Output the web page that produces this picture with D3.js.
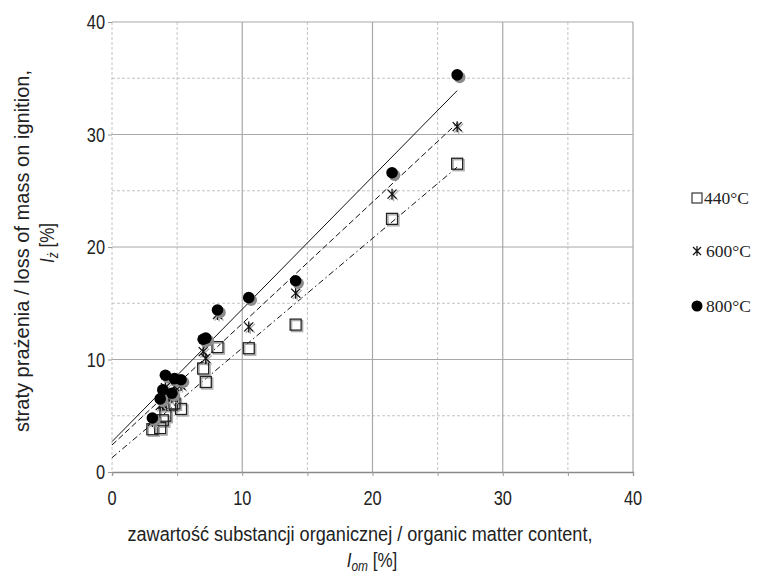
<!DOCTYPE html>
<html>
<head>
<meta charset="utf-8">
<script src="https://cdn.jsdelivr.net/npm/d3@7"></script>
<style>
  body { margin: 0; background: #fff; }
  svg text { font-family: "Liberation Sans Narrow", "Arial Narrow", "Liberation Sans", sans-serif; fill: #222; }
  .leg text { font-family: "Liberation Serif", "Times New Roman", serif; }
</style>
</head>
<body>
<svg id="chart" width="757" height="575"></svg>
<script>
// organic matter content (x) for every sample
const organic = [3.1, 3.7, 3.9, 4.1, 4.6, 4.8, 5.3, 7.0, 7.2, 8.1, 10.5, 14.1, 21.5, 26.5];
// loss on ignition at the three temperatures
const loss440 = [3.8, 3.9, 4.6, 5.0, 6.0, 6.1, 5.6, 9.2, 8.0, 11.1, 11.0, 13.1, 22.5, 27.4];
const loss600 = [4.5, 5.9, 6.0, 7.5, 6.6, 7.6, 7.7, 10.7, 10.1, 14.0, 12.9, 15.9, 24.7, 30.7];
const loss800 = [4.8, 6.5, 7.3, 8.6, 7.0, 8.3, 8.2, 11.8, 11.9, 14.4, 15.5, 17.0, 26.6, 35.3];
// trend lines: [x, y] at both ends
const trend440 = [[0, 1.27], [26.5, 27.1]];
const trend600 = [[0, 2.4], [26.5, 31.0]];
const trend800 = [[0, 2.7], [26.5, 33.9]];
const majorTicks = [0, 10, 20, 30, 40];
const minorTicks = [5, 15, 25, 35];
const seriesNames = ["440°C", "600°C", "800°C"];

const svg = d3.select("#chart");

const x = d3.scaleLinear().domain([0, 40]).range([112, 633]);
const y = d3.scaleLinear().domain([0, 40]).range([472, 22]);

// grid
const grid = svg.append("g");
grid.selectAll(".vmin").data(minorTicks.concat([0])).enter().append("line")
    .attr("x1", d => x(d)).attr("x2", d => x(d)).attr("y1", y(40)).attr("y2", y(0))
    .attr("stroke", "#c4c4c4").attr("stroke-dasharray", "3,2");
grid.selectAll(".hmin").data(minorTicks).enter().append("line")
    .attr("y1", d => y(d)).attr("y2", d => y(d)).attr("x1", x(0)).attr("x2", x(40))
    .attr("stroke", "#c4c4c4").attr("stroke-dasharray", "3,2");
grid.selectAll(".vmaj").data([10, 20, 30, 40]).enter().append("line")
    .attr("x1", d => x(d)).attr("x2", d => x(d)).attr("y1", y(40)).attr("y2", y(0))
    .attr("stroke", "#a8a8a8").attr("stroke-width", 1.2);
grid.selectAll(".hmaj").data([10, 20, 30, 40]).enter().append("line")
    .attr("y1", d => y(d)).attr("y2", d => y(d)).attr("x1", x(0)).attr("x2", x(40))
    .attr("stroke", "#a8a8a8").attr("stroke-width", 1.2);

// axes
const xAxis = svg.append("g")
    .attr("transform", "translate(0," + y(0) + ")")
    .call(d3.axisBottom(x).tickValues(d3.range(0, 41, 5)).tickSize(4).tickFormat(""));
xAxis.select(".domain").attr("stroke", "#8a8a8a").attr("stroke-width", 1.3);
xAxis.selectAll(".tick line").attr("stroke", "#999");
// narrow look: squeeze glyphs horizontally
svg.append("g").selectAll("text").data(majorTicks).enter().append("text")
    .attr("transform", d => "translate(" + x(d) + ",505) scale(0.82,1)")
    .attr("text-anchor", "middle").attr("font-size", 20).text(d => d);

const yAxis = svg.append("g")
    .attr("transform", "translate(" + x(0) + ",0)")
    .call(d3.axisLeft(y).tickValues(majorTicks).tickSize(4).tickFormat(""));
yAxis.select(".domain").remove();
yAxis.selectAll(".tick line").attr("stroke", "#999");
svg.append("g").selectAll("text").data(majorTicks).enter().append("text")
    .attr("transform", d => "translate(105," + (y(d) + 7) + ") scale(0.82,1)")
    .attr("text-anchor", "end").attr("font-size", 20).text(d => d);

// axis titles
svg.append("text").attr("x", 360).attr("y", 541)
    .attr("text-anchor", "middle").attr("font-size", 20)
    .attr("textLength", 465).attr("lengthAdjust", "spacingAndGlyphs")
    .text("zawartość substancji organicznej / organic matter content,");
const xt2 = svg.append("text").attr("transform", "translate(372,567) scale(0.85,1)")
    .attr("text-anchor", "middle").attr("font-size", 20);
xt2.append("tspan").attr("font-style", "italic").text("I");
xt2.append("tspan").attr("font-style", "italic").attr("font-size", 14).attr("dy", 4).text("om");
xt2.append("tspan").attr("dy", -4).text(" [%]");

svg.append("text").attr("transform", "translate(29,251) rotate(-90)")
    .attr("text-anchor", "middle").attr("font-size", 20)
    .attr("textLength", 362).attr("lengthAdjust", "spacingAndGlyphs")
    .text("straty prażenia / loss of mass on ignition,");
const yt2 = svg.append("text").attr("transform", "translate(54,243) rotate(-90) scale(0.85,1)")
    .attr("text-anchor", "middle").attr("font-size", 20);
yt2.append("tspan").attr("font-style", "italic").text("I");
yt2.append("tspan").attr("font-style", "italic").attr("font-size", 14).attr("dy", 4).text("ż");
yt2.append("tspan").attr("dy", -4).text("  [%]");

// trend lines
const line = d3.line().x(d => x(d[0])).y(d => y(d[1]));
svg.append("path").datum(trend440).attr("d", line).attr("fill", "none")
    .attr("stroke", "#111").attr("stroke-dasharray", "6,3,1.5,3");
svg.append("path").datum(trend600).attr("d", line).attr("fill", "none")
    .attr("stroke", "#111").attr("stroke-dasharray", "6,3");
svg.append("path").datum(trend800).attr("d", line).attr("fill", "none")
    .attr("stroke", "#111");

const starPath = "M-4.5,-4.5L4.5,4.5M-4.5,4.5L4.5,-4.5M0,-5.5L0,5.5";

function drawSquares(g, vals, off, color) {
    g.selectAll(null).data(vals).enter().append("rect")
        .attr("x", (d, i) => x(organic[i]) - 5.5 + off).attr("y", d => y(d) - 5.5 + off)
        .attr("width", 11).attr("height", 11)
        .attr("fill", "none").attr("stroke", color).attr("stroke-width", 1.3);
}
function drawStars(g, vals, off, color) {
    g.selectAll(null).data(vals).enter().append("path")
        .attr("transform", (d, i) => "translate(" + (x(organic[i]) + off) + "," + (y(d) + off) + ")")
        .attr("d", starPath).attr("stroke", color).attr("stroke-width", 1.3).attr("fill", "none");
}
function drawCircles(g, vals, off, color) {
    g.selectAll(null).data(vals).enter().append("circle")
        .attr("cx", (d, i) => x(organic[i]) + off).attr("cy", d => y(d) + off)
        .attr("r", 5.8).attr("fill", color);
}

const marks = svg.append("g");
drawSquares(marks, loss440, 1.5, "#aaa");
drawSquares(marks, loss440, 0, "#222");
drawStars(marks, loss600, 1.5, "#aaa");
drawStars(marks, loss600, 0, "#111");
drawCircles(marks, loss800, 2.5, "#8c8c8c");
drawCircles(marks, loss800, 0, "#000");

// legend
const leg = svg.append("g").attr("class", "leg");
const legY = [198, 251, 306];
leg.append("rect").attr("x", 692).attr("y", legY[0] - 5).attr("width", 10).attr("height", 10)
    .attr("fill", "none").attr("stroke", "#222").attr("stroke-width", 1.1);
leg.append("path").attr("transform", "translate(697," + legY[1] + ")")
    .attr("d", "M-4,-4L4,4M-4,4L4,-4M0,-5L0,5").attr("stroke", "#111").attr("stroke-width", 1.2);
leg.append("circle").attr("cx", 697).attr("cy", legY[2]).attr("r", 5.5).attr("fill", "#000");
leg.selectAll("text").data(seriesNames).enter().append("text")
    .attr("x", (d, i) => i === 0 ? 704 : 706).attr("y", (d, i) => legY[i] + 6)
    .attr("font-size", 17.5).text(d => d);
</script>
</body>
</html>
